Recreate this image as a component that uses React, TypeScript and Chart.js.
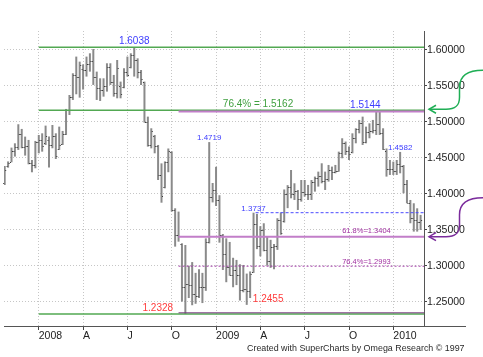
import React, { useEffect, useRef } from "react";
import { Chart, registerables } from "chart.js";

Chart.register(...registerables);

// Weekly bars, index 0 = week ending 26 Oct 2007 ... index 122 = week ending 26 Feb 2010
const opens = [
  1.4150, 1.4380, 1.4440, 1.4600, 1.4650, 1.4830, 1.4650, 1.4660, 1.4430, 1.4400,
  1.4720, 1.4750, 1.4700, 1.4750, 1.4680, 1.4800, 1.4620, 1.4690, 1.4830, 1.5170,
  1.5350, 1.5650, 1.5620, 1.5740, 1.5720, 1.5810, 1.5840, 1.5620, 1.5470, 1.5450,
  1.5500, 1.5760, 1.5550, 1.5400, 1.5500, 1.5480, 1.5700, 1.5760, 1.5930, 1.5860,
  1.5690, 1.5550, 1.5000, 1.4680, 1.4800, 1.4670, 1.4260, 1.4100, 1.4440, 1.4580,
  1.3780, 1.3420, 1.3300, 1.2700, 1.2750, 1.2730, 1.2600, 1.2580, 1.2700, 1.2700,
  1.3330, 1.3950, 1.4050, 1.3920, 1.3420, 1.3160, 1.2980, 1.2870, 1.2940, 1.2870,
  1.2660, 1.2670, 1.2650, 1.2910, 1.3580, 1.3280, 1.3490, 1.3220, 1.3060, 1.3260,
  1.3270, 1.3630, 1.3620, 1.3990, 1.4100, 1.3990, 1.4040, 1.3930, 1.4020, 1.4000,
  1.3990, 1.4170, 1.4220, 1.4250, 1.4180, 1.4200, 1.4330, 1.4300, 1.4310, 1.4570,
  1.4700, 1.4600, 1.4580, 1.4770, 1.4900, 1.4980, 1.4720, 1.4860, 1.4880, 1.4890,
  1.4970, 1.4850, 1.4600, 1.4340, 1.4340, 1.4320, 1.4410, 1.4380, 1.4140, 1.3870,
  1.3670, 1.3630, 1.3610,
];
const highs = [
  1.4387, 1.4450, 1.4642, 1.4702, 1.4967, 1.4902, 1.4795, 1.4749, 1.4470, 1.4735,
  1.4818, 1.4841, 1.4948, 1.4795, 1.4957, 1.4841, 1.4934, 1.4874, 1.5180, 1.5374,
  1.5676, 1.5908, 1.5838, 1.5800, 1.5908, 1.5954, 1.6014, 1.5699, 1.5606, 1.5606,
  1.5815, 1.5815, 1.5653, 1.5861, 1.5560, 1.5745, 1.5908, 1.5954, 1.6038, 1.5884,
  1.5722, 1.5560, 1.5073, 1.4911, 1.4818, 1.4679, 1.4423, 1.4450, 1.4630, 1.4590,
  1.3798, 1.3752, 1.3311, 1.3288, 1.3000, 1.3050, 1.2900, 1.2950, 1.2900, 1.3380,
  1.4719, 1.4150, 1.4375, 1.3980, 1.3440, 1.3380, 1.3330, 1.3110, 1.3080, 1.3020,
  1.3010, 1.2890, 1.2920, 1.3737, 1.3720, 1.3550, 1.3590, 1.3400, 1.3360, 1.3300,
  1.3660, 1.3740, 1.4060, 1.4120, 1.4331, 1.4146, 1.4053, 1.4192, 1.4192, 1.4123,
  1.4192, 1.4239, 1.4308, 1.4424, 1.4308, 1.4401, 1.4378, 1.4401, 1.4586, 1.4772,
  1.4726, 1.4656, 1.4841, 1.4911, 1.5027, 1.5073, 1.4934, 1.4980, 1.5027, 1.5144,
  1.5140, 1.4911, 1.4630, 1.4470, 1.4447, 1.4470, 1.4582, 1.4400, 1.4192, 1.3914,
  1.3868, 1.3798, 1.3706,
];
const lows = [
  1.4123, 1.4364, 1.4438, 1.4517, 1.4610, 1.4633, 1.4531, 1.4410, 1.4299, 1.4355,
  1.4563, 1.4586, 1.4679, 1.4364, 1.4633, 1.4484, 1.4610, 1.4679, 1.4818, 1.5096,
  1.5305, 1.5384, 1.5337, 1.5450, 1.5630, 1.5699, 1.5514, 1.5305, 1.5291, 1.5351,
  1.5421, 1.5514, 1.5351, 1.5328, 1.5328, 1.5467, 1.5630, 1.5745, 1.5630, 1.5606,
  1.5513, 1.4990, 1.4656, 1.4632, 1.4563, 1.4192, 1.3876, 1.4076, 1.4300, 1.3752,
  1.3265, 1.3334, 1.2500, 1.2328, 1.2550, 1.2450, 1.2470, 1.2550, 1.2480, 1.2650,
  1.3310, 1.3880, 1.3830, 1.3320, 1.2940, 1.2770, 1.2860, 1.2700, 1.2730, 1.2515,
  1.2630, 1.2455, 1.2550, 1.2900, 1.3230, 1.3130, 1.3200, 1.3000, 1.2970, 1.2950,
  1.3220, 1.3430, 1.3600, 1.3800, 1.3937, 1.3914, 1.3775, 1.3891, 1.3961, 1.3914,
  1.3914, 1.4030, 1.4100, 1.4146, 1.4053, 1.4169, 1.4192, 1.4285, 1.4308, 1.4494,
  1.4540, 1.4471, 1.4563, 1.4702, 1.4841, 1.4679, 1.4702, 1.4772, 1.4841, 1.4818,
  1.4818, 1.4610, 1.4239, 1.4262, 1.4262, 1.4262, 1.4285, 1.4007, 1.3868, 1.3590,
  1.3474, 1.3474, 1.3497,
];
const closes = [
  1.4330, 1.4430, 1.4600, 1.4650, 1.4830, 1.4650, 1.4660, 1.4430, 1.4400, 1.4720,
  1.4750, 1.4660, 1.4800, 1.4680, 1.4800, 1.4520, 1.4680, 1.4830, 1.5170, 1.5350,
  1.5650, 1.5620, 1.5790, 1.5720, 1.5810, 1.5840, 1.5620, 1.5470, 1.5450, 1.5500,
  1.5760, 1.5550, 1.5400, 1.5750, 1.5390, 1.5700, 1.5650, 1.5930, 1.5860, 1.5690,
  1.5600, 1.5000, 1.4680, 1.4870, 1.4670, 1.4260, 1.3970, 1.4440, 1.4600, 1.3780,
  1.3420, 1.3410, 1.2700, 1.2750, 1.2730, 1.2600, 1.2580, 1.2700, 1.2700, 1.3330,
  1.3950, 1.4050, 1.3920, 1.3420, 1.3160, 1.2980, 1.2870, 1.2940, 1.2870, 1.2660,
  1.2670, 1.2650, 1.2890, 1.3580, 1.3280, 1.3490, 1.3220, 1.3060, 1.3260, 1.3270,
  1.3630, 1.3450, 1.4000, 1.4100, 1.3990, 1.4040, 1.3930, 1.4020, 1.4000, 1.3990,
  1.4170, 1.4220, 1.4250, 1.4180, 1.4200, 1.4330, 1.4300, 1.4310, 1.4570, 1.4700,
  1.4600, 1.4560, 1.4770, 1.4900, 1.4980, 1.4720, 1.4860, 1.4880, 1.4890, 1.4970,
  1.4850, 1.4620, 1.4340, 1.4340, 1.4320, 1.4410, 1.4380, 1.4140, 1.3870, 1.3670,
  1.3630, 1.3610, 1.3630,
];

// x-axis: week index of the first bar of each quarter, and its label
const quarterTicks = [10, 23, 36, 49, 62, 75, 88, 101, 114];
const quarterLabels = ["2008", "A", "J", "O", "2009", "A", "J", "O", "2010"];
const priceTicks = [1.25, 1.3, 1.35, 1.4, 1.45, 1.5, 1.55, 1.6];

// Annotation levels
const greenLevels = [1.6038, 1.5162, 1.2328]; // start at week 10
const purpleLevels = [1.5144, 1.3404]; // start at week 51
const purpleDotted = 1.2993;
const blueDashed = 1.3737; // from week 73

const FONT = "'Liberation Sans', Arial, Helvetica, sans-serif";

const ohlcTicks = {
  id: "ohlcTicks",
  afterDatasetsDraw(chart: any) {
    const { ctx, scales } = chart;
    const x = scales.x, y = scales.y;
    ctx.save();
    ctx.fillStyle = "#3a3a3a";
    for (let i = 0; i < opens.length; i++) {
      const px = x.getPixelForValue(i);
      const po = Math.round(y.getPixelForValue(opens[i]));
      const pc = Math.round(y.getPixelForValue(closes[i]));
      ctx.fillRect(px - 1.5, po, 1, 1);
      ctx.fillRect(px + 0.5, pc, 1, 1);
    }
    ctx.restore();
  },
};

const annotations = {
  id: "annotations",
  afterDatasetsDraw(chart: any) {
    const { ctx, scales, chartArea } = chart;
    const x = scales.x, y = scales.y;
    const right = chartArea.right;
    const hline = (v: number, from: number, color: string, w: number, dash: number[], dy = 0) => {
      const py = y.getPixelForValue(v) + dy;
      ctx.save();
      ctx.strokeStyle = color;
      ctx.lineWidth = w;
      ctx.setLineDash(dash);
      ctx.beginPath();
      ctx.moveTo(x.getPixelForValue(from), py);
      ctx.lineTo(right, py);
      ctx.stroke();
      ctx.restore();
    };
    greenLevels.forEach((v) => hline(v, 10, "#52a852", 1.6, []));
    purpleLevels.forEach((v) => hline(v, 51, "#c27ec9", 2, []));
    hline(greenLevels[2], 51, "#7d3f84", 1, [], -1.2);
    hline(purpleDotted, 51, "#a23ca8", 1, [2, 2]);
    hline(blueDashed, 73.6, "#4b4bff", 1, [3, 2]);

    const text = (s: string, xv: number, yv: number, dy: number, color: string, size: number, align: CanvasTextAlign, dx = 0) => {
      ctx.save();
      ctx.font = `${size}px ${FONT}`;
      ctx.fillStyle = color;
      ctx.textAlign = align;
      ctx.textBaseline = "alphabetic";
      ctx.fillText(s, x.getPixelForValue(xv) + dx, y.getPixelForValue(yv) + dy);
      ctx.restore();
    };
    text("1.6038", 38, 1.6038, -3, "#3c3cff", 10, "center");
    text("76.4% = 1.5162", 64, 1.5162, -3, "#3f9f3f", 10, "left");
    text("1.5144", 110, 1.5144, -4, "#3c3cff", 10, "right", 1);
    text("1.4719", 60, 1.4719, -2, "#3c3cff", 8, "center");
    text("1.3737", 73, 1.3737, -1.5, "#3c3cff", 8, "center");
    text("1.4582", 116, 1.4582, -2, "#3c3cff", 8, "center");
    text("61.8%=1.3404", 99, 1.3404, -4, "#a030a0", 7.5, "left");
    text("76.4%=1.2993", 99, 1.2993, -2, "#a030a0", 7.5, "left");
    text("1.2328", 49.4, 1.2328, -3, "#ff3c3c", 10, "right");
    text("1.2455", 72.8, 1.2455, -3, "#ff3c3c", 10, "left");
  },
  afterDraw(chart: any) {
    const { ctx, scales, chartArea } = chart;
    const y = scales.y;
    // x axis line continues past the price axis
    ctx.save();
    ctx.strokeStyle = "#555";
    ctx.lineWidth = 1;
    const by = Math.round(chartArea.bottom) + 0.5;
    ctx.beginPath();
    ctx.moveTo(chartArea.right, by);
    ctx.lineTo(466, by);
    ctx.stroke();
    ctx.restore();

    // curved arrows pointing at the levels
    const arrow = (tipY: number, color: string) => {
      const tipX = chartArea.right + 5;
      ctx.save();
      ctx.strokeStyle = color;
      ctx.lineWidth = 1.5;
      ctx.beginPath();
      ctx.moveTo(483, tipY - 39);
      ctx.bezierCurveTo(466, tipY - 39, 459.5, tipY - 33, 459.5, tipY - 22);
      ctx.lineTo(459.5, tipY - 12);
      ctx.bezierCurveTo(459.5, tipY - 3, 455, tipY, 446, tipY);
      ctx.lineTo(tipX, tipY);
      ctx.stroke();
      ctx.beginPath();
      ctx.moveTo(tipX + 7, tipY - 4);
      ctx.lineTo(tipX, tipY);
      ctx.lineTo(tipX + 7, tipY + 4);
      ctx.stroke();
      ctx.restore();
    };
    arrow(y.getPixelForValue(1.5162) - 1, "#1fae55");
    arrow(y.getPixelForValue(1.3404), "#7b2c9c");

    // footer credit
    const credit = "Created with SuperCharts by Omega Research \u00a9 1997";
    ctx.save();
    ctx.font = `10px ${FONT}`;
    const w = ctx.measureText(credit).width;
    const size = (10 * 218) / w;
    ctx.font = `${size}px ${FONT}`;
    ctx.fillStyle = "#2a2a2a";
    ctx.textBaseline = "alphabetic";
    ctx.fillText(credit, 247, 351);
    ctx.restore();
  },
};

export default function App() {
  const ref = useRef<HTMLCanvasElement | null>(null);
  useEffect(() => {
    if (!ref.current) return;
    const bars = lows.map((l, i) => ({ x: i, y: [l, highs[i]] }));
    const chart = new Chart(ref.current, {
      type: "bar",
      data: {
        datasets: [
          {
            data: bars as any,
            backgroundColor: "#8a8a8a",
            borderWidth: 0,
            barThickness: 2,
            inflateAmount: 0,
          },
        ],
      },
      plugins: [ohlcTicks, annotations],
      options: {
        animation: false,
        responsive: false,
        devicePixelRatio: 1,
        layout: { padding: { left: 4, top: 31, right: 0, bottom: 0 } },
        plugins: { legend: { display: false }, tooltip: { enabled: false } },
        scales: {
          x: {
            type: "linear",
            min: -0.2,
            max: 123,
            offset: false,
            afterBuildTicks: (s: any) => {
              s.ticks = quarterTicks.map((v) => ({ value: v }));
            },
            afterFit: (s: any) => {
              s.height = 31;
            },
            ticks: {
              autoSkip: false,
              maxRotation: 0,
              minRotation: 0,
              align: "start",
              padding: 0,
              color: "#222",
              font: { family: FONT, size: 10.5 },
              callback: (_v: any, i: number) => quarterLabels[i],
            },
            grid: { color: "#c6c6c6", lineWidth: 1, tickLength: 4, tickColor: "#444", offset: false },
            border: { display: true, color: "#555", width: 1, dash: [1, 2] },
          },
          y: {
            type: "linear",
            position: "right",
            min: 1.2161,
            max: 1.6264,
            afterBuildTicks: (s: any) => {
              s.ticks = priceTicks.map((v) => ({ value: v }));
            },
            afterFit: (s: any) => {
              s.width = 59;
            },
            ticks: {
              padding: 0,
              color: "#222",
              font: { family: FONT, size: 10.5 },
              callback: (v: any) => Number(v).toFixed(5),
            },
            grid: { color: "#c6c6c6", lineWidth: 1, tickLength: 3, tickColor: "#444" },
            border: { display: true, color: "#555", width: 1, dash: [1, 2] },
          },
        },
      } as any,
    });
    return () => chart.destroy();
  }, []);
  return (
    <div style={{ position: "fixed", left: 0, top: 0, width: 483, height: 357, background: "#fff" }}>
      <canvas ref={ref} width={483} height={357} style={{ display: "block", width: 483, height: 357 }} />
    </div>
  );
}
